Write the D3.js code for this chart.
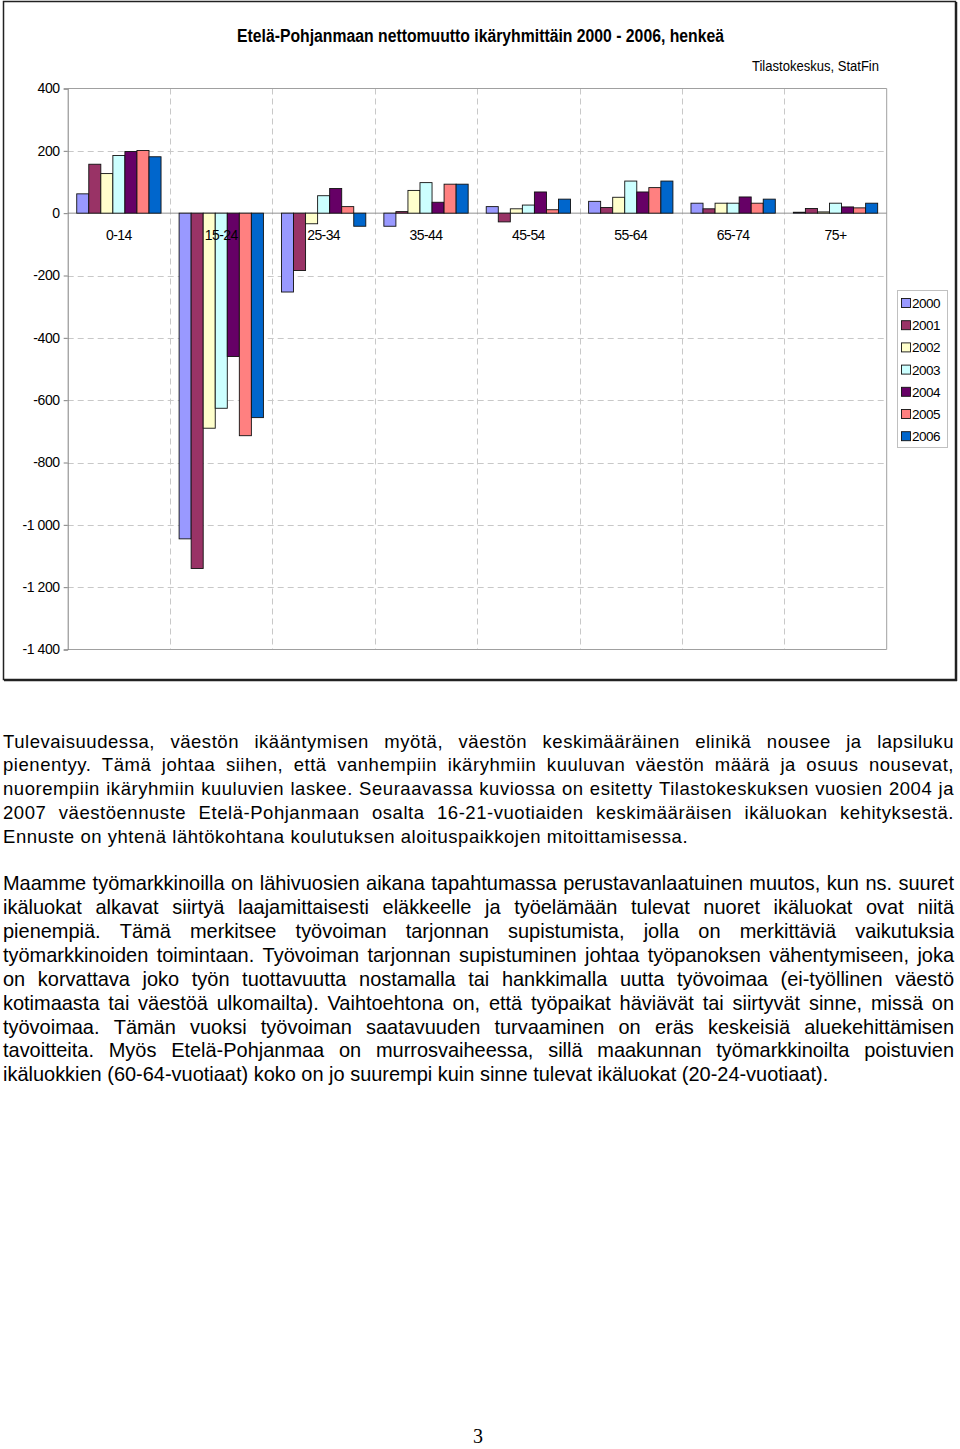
<!DOCTYPE html>
<html>
<head>
<meta charset="utf-8">
<script src="https://cdn.jsdelivr.net/npm/d3@7"></script>
<style>
  html, body { margin: 0; padding: 0; background: #fff; }
  svg { display: block; }
</style>
</head>
<body>
<svg id="page" width="960" height="1449"></svg>
<script>
// ---------------- DATA ----------------
const categories = ["0-14", "15-24", "25-34", "35-44", "45-54", "55-64", "65-74", "75+"];
const years = ["2000", "2001", "2002", "2003", "2004", "2005", "2006"];
const v2000 = [62, -1045, -253, -42, 21, 38, 32, 3];
const v2001 = [157, -1140, -184, 5, -28, 18, 14, 15];
const v2002 = [127, -690, -34, 73, 14, 51, 32, 4];
const v2003 = [185, -626, 56, 98, 26, 103, 32, 32];
const v2004 = [198, -460, 79, 35, 68, 68, 52, 20];
const v2005 = [201, -714, 21, 93, 11, 82, 32, 17];
const v2006 = [181, -656, -42, 93, 45, 103, 45, 32];
const seriesValues = [v2000, v2001, v2002, v2003, v2004, v2005, v2006];
const seriesColors = ["#9999FF", "#993366", "#FFFFCC", "#CCFFFF", "#660066", "#FF8080", "#0066CC"];
const yTicks = [400, 200, 0, -200, -400, -600, -800, -1000, -1200, -1400];
const titleText = "Etelä-Pohjanmaan nettomuutto ikäryhmittäin 2000 - 2006, henkeä";
const sourceText = "Tilastokeskus, StatFin";

const para1 = [
  "Tulevaisuudessa, väestön ikääntymisen myötä, väestön keskimääräinen elinikä nousee ja lapsiluku",
  "pienentyy. Tämä johtaa siihen, että vanhempiin ikäryhmiin kuuluvan väestön määrä ja osuus nousevat,",
  "nuorempiin ikäryhmiin kuuluvien laskee. Seuraavassa kuviossa on esitetty Tilastokeskuksen vuosien 2004 ja",
  "2007 väestöennuste Etelä-Pohjanmaan osalta 16-21-vuotiaiden keskimääräisen ikäluokan kehityksestä.",
  "Ennuste on yhtenä lähtökohtana koulutuksen aloituspaikkojen mitoittamisessa."
];
const para2 = [
  "Maamme työmarkkinoilla on lähivuosien aikana tapahtumassa perustavanlaatuinen muutos, kun ns. suuret",
  "ikäluokat alkavat siirtyä laajamittaisesti eläkkeelle ja työelämään tulevat nuoret ikäluokat ovat niitä",
  "pienempiä. Tämä merkitsee työvoiman tarjonnan supistumista, jolla on merkittäviä vaikutuksia",
  "työmarkkinoiden toimintaan. Työvoiman tarjonnan supistuminen johtaa työpanoksen vähentymiseen, joka",
  "on korvattava joko työn tuottavuutta nostamalla tai hankkimalla uutta työvoimaa (ei-työllinen väestö",
  "kotimaasta tai väestöä ulkomailta). Vaihtoehtona on, että työpaikat häviävät tai siirtyvät sinne, missä on",
  "työvoimaa. Tämän vuoksi työvoiman saatavuuden turvaaminen on eräs keskeisiä aluekehittämisen",
  "tavoitteita. Myös Etelä-Pohjanmaa on murrosvaiheessa, sillä maakunnan työmarkkinoilta poistuvien",
  "ikäluokkien (60-64-vuotiaat) koko on jo suurempi kuin sinne tulevat ikäluokat (20-24-vuotiaat)."
];
const pageNumber = "3";

// ---------------- LAYOUT ----------------
const svg = d3.select("#page");
const FONT = "'Liberation Sans', Arial, Helvetica, sans-serif";
const plot = { left: 67.7, right: 886.7, top: 88.5, bottom: 649.5 };

// Chart frame
svg.append("rect")
  .attr("x", 3.5).attr("y", 1.5).attr("width", 952).attr("height", 678)
  .attr("fill", "#fff").attr("stroke", "#222").attr("stroke-width", 1.5);
svg.append("line").attr("x1", 956.5).attr("x2", 956.5).attr("y1", 2).attr("y2", 681)
  .attr("stroke", "#222").attr("stroke-width", 1.5);
svg.append("line").attr("x1", 4).attr("x2", 957).attr("y1", 680.5).attr("y2", 680.5)
  .attr("stroke", "#222").attr("stroke-width", 1.5);

// Title and source
svg.append("text")
  .attr("x", 480.5).attr("y", 42).attr("text-anchor", "middle")
  .attr("font-family", FONT).attr("font-weight", "bold").attr("font-size", 17.5)
  .attr("textLength", 487).attr("lengthAdjust", "spacingAndGlyphs")
  .text(titleText);
svg.append("text")
  .attr("x", 752).attr("y", 71)
  .attr("font-family", FONT).attr("font-size", 14.5)
  .attr("textLength", 127).attr("lengthAdjust", "spacingAndGlyphs")
  .text(sourceText);

// Scales
const y = d3.scaleLinear().domain([-1400, 400]).range([plot.bottom, plot.top]);
const x = d3.scaleBand().domain(categories).range([plot.left, plot.right]).padding(0);
const x1 = d3.scaleBand().domain(years).range([0, x.bandwidth()]).paddingInner(0).paddingOuter(0.75);

const g = svg.append("g");

// Grid: horizontal dashed
g.selectAll(".hgrid").data(yTicks.filter(t => t !== 400 && t !== 0 && t !== -1400))
  .enter().append("line")
  .attr("x1", plot.left).attr("x2", plot.right)
  .attr("y1", d => Math.round(y(d)) + 0.5).attr("y2", d => Math.round(y(d)) + 0.5)
  .attr("stroke", "#c8c8c8").attr("stroke-width", 1).attr("stroke-dasharray", "6,4");
// Grid: vertical dashed at category boundaries
g.selectAll(".vgrid").data(categories.slice(1))
  .enter().append("line")
  .attr("x1", d => Math.round(x(d)) + 0.5).attr("x2", d => Math.round(x(d)) + 0.5)
  .attr("y1", plot.top).attr("y2", plot.bottom)
  .attr("stroke", "#c8c8c8").attr("stroke-width", 1).attr("stroke-dasharray", "6,4");

// Plot border (top, right, bottom)
g.append("path")
  .attr("d", `M${plot.left},${plot.top}H${plot.right}V${plot.bottom}H${plot.left}`)
  .attr("fill", "none").attr("stroke", "#a0a0a0").attr("stroke-width", 1);

// Zero line
g.append("line")
  .attr("x1", plot.left).attr("x2", plot.right)
  .attr("y1", y(0)).attr("y2", y(0))
  .attr("stroke", "#909090").attr("stroke-width", 1);

// Bars
const bars = g.append("g");
seriesValues.forEach((vals, si) => {
  bars.selectAll(null).data(vals.map((v, ci) => ({ v, cat: categories[ci] })))
    .enter().append("rect")
    .attr("x", d => x(d.cat) + x1(years[si]))
    .attr("width", x1.bandwidth())
    .attr("y", d => y(Math.max(0, d.v)))
    .attr("height", d => Math.abs(y(d.v) - y(0)))
    .attr("fill", seriesColors[si])
    .attr("stroke", "#111").attr("stroke-width", 0.9);
});

// Y axis
const locale = d3.formatLocale({ decimal: ",", thousands: "\u00a0", grouping: [3], currency: ["", ""], minus: "-" });
const fmt = locale.format(",d");
const yAxis = d3.axisLeft(y).tickValues(yTicks).tickFormat(fmt).tickSize(4).tickPadding(4);
const ya = svg.append("g").attr("transform", `translate(${plot.left},0)`).call(yAxis);
ya.select(".domain").attr("stroke", "#808080");
ya.selectAll(".tick line").attr("stroke", "#808080");
ya.selectAll("text").attr("font-family", FONT).attr("font-size", 14).attr("fill", "#000")
  .attr("letter-spacing", -0.4);

// Category labels
svg.append("g").selectAll("text").data(categories).enter().append("text")
  .attr("x", d => x(d) + x.bandwidth() / 2)
  .attr("y", 240)
  .attr("text-anchor", "middle")
  .attr("font-family", FONT).attr("font-size", 14).attr("letter-spacing", -0.6)
  .text(d => d);

// Legend
const lg = svg.append("g");
lg.append("rect").attr("x", 897.5).attr("y", 290.5).attr("width", 50).attr("height", 157)
  .attr("fill", "#fff").attr("stroke", "#c0c0c0");
years.forEach((yr, i) => {
  const cy = 303 + i * 22.2;
  lg.append("rect").attr("x", 901.5).attr("y", cy - 4.5).attr("width", 9).attr("height", 9)
    .attr("fill", seriesColors[i]).attr("stroke", "#111").attr("stroke-width", 0.9);
  lg.append("text").attr("x", 912).attr("y", cy + 5)
    .attr("font-family", FONT).attr("font-size", 13.5).attr("letter-spacing", -0.5)
    .text(yr);
});

// ---------------- BODY TEXT ----------------
function measure(parent, str, fontSize, family, ls) {
  const t = parent.append("text").attr("font-family", family).attr("font-size", fontSize)
    .attr("letter-spacing", ls).text(str);
  const w = t.node().getComputedTextLength();
  t.remove();
  return w;
}

function justifyLines(parent, lines, baselines, width, fontSize, family, ls) {
  const spaceW = measure(parent, "a a", fontSize, family, ls) - measure(parent, "aa", fontSize, family, ls);
  lines.forEach((line, li) => {
    const words = line.split(" ");
    const last = li === lines.length - 1;
    const nodes = words.map(w => parent.append("text")
      .attr("font-family", family).attr("font-size", fontSize).attr("letter-spacing", ls)
      .attr("y", baselines[li]).text(w));
    const widths = nodes.map(n => n.node().getComputedTextLength());
    const sum = d3.sum(widths);
    const gap = last ? spaceW : (width - sum) / (words.length - 1);
    let cx = 0;
    nodes.forEach((n, i) => { n.attr("x", cx); cx += widths[i] + gap; });
  });
}

const lineStep = 23.85;
const p1Base = para1.map((_, i) => 747.5 + i * lineStep);
const p2Base = para2.map((_, i) => 890.5 + i * lineStep);

// Paragraph 1: letter-spacing chosen so the last (unjustified) line spans as in the page
const p1Size = 18.5;
const p1Last = para1[para1.length - 1];
const p1W = measure(svg, p1Last, p1Size, FONT, 0);
const p1Ls = (685 - p1W) / p1Last.length;
const p1 = svg.append("g").attr("transform", "translate(3,0)");
justifyLines(p1, para1, p1Base, 951, p1Size, FONT, p1Ls);

// Paragraph 2 (condensed face)
const p2Size = 20.5;
const lastW = measure(svg, para2[para2.length - 1], p2Size, FONT, 0);
const sx = 826 / lastW;
const p2 = svg.append("g").attr("transform", `translate(3,0) scale(${sx},1)`);
justifyLines(p2, para2, p2Base, 951 / sx, p2Size, FONT, 0);

// Page number
svg.append("text").attr("x", 478).attr("y", 1443).attr("text-anchor", "middle")
  .attr("font-family", "'Liberation Serif', 'Times New Roman', serif").attr("font-size", 20)
  .text(pageNumber);
</script>
</body>
</html>
